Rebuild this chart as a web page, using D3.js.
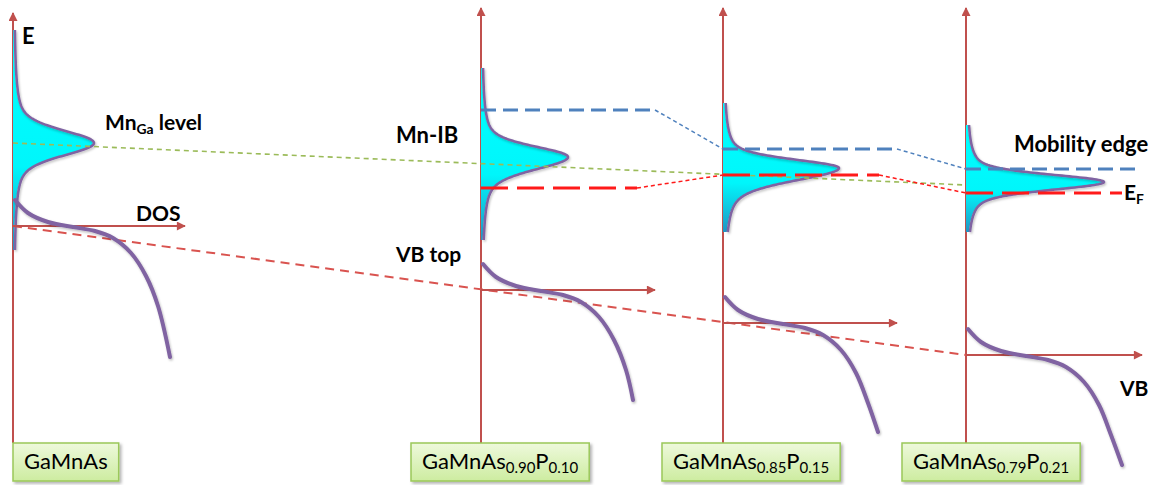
<!DOCTYPE html>
<html>
<head>
<meta charset="utf-8">
<script src="https://cdn.jsdelivr.net/npm/d3@7"></script>
<style>
  body { margin: 0; background: #fff; }
  svg { display: block; }
  text { font-family: Lato, "Open Sans", sans-serif; fill: #000; }
</style>
</head>
<body>
<svg id="chart" width="1159" height="485"></svg>
<script>
// ---- Samples: one DOS panel each ----
const sampleBase = ["GaMnAs", "GaMnAs", "GaMnAs", "GaMnAs"];
const asFraction = [null, "0.90", "0.85", "0.79"];
const pFraction  = [null, "0.10", "0.15", "0.21"];

// ---- Energies (arb. units, 0 = valence-band top of GaMnAs) ----
const vbTop        = [0, -0.64, -0.97, -1.29];
const mnLevel      = [0.83, 0.69, 0.58, 0.44];
const fermiLevel   = [null, 0.38, 0.51, 0.33];
const mobilityEdge = [null, 1.16, 0.77, 0.57];
const mnTrend      = [0.83, 0.41];          // guide through the Mn level, first to last panel

// ---- Mn impurity-band DOS ----
const mnPeakDos     = [0.80, 0.86, 1.15, 1.37];
const mnWidthAbove  = [0.12, 0.10, 0.08, 0.07];
const mnWidthBelow  = [0.12, 0.12, 0.12, 0.075];
const mnExtentAbove = [1.13, 0.89, 0.65, 0.57];
const mnExtentBelow = [1.07, 0.83, 0.64, 0.50];

// ---- Valence-band DOS (dos, energy relative to VB top) ----
const vbShapeDos = [0.02, 0.15, 0.35, 0.60, 0.82, 1.00, 1.18, 1.33, 1.45];
const vbShapeE   = [0.26, 0.13, 0.04, -0.01, -0.05, -0.12, -0.27, -0.50, -0.80];
const vbTailDos  = [1.57, 1.52, 1.55, 1.56];
const vbTailE    = [-1.31, -1.10, -1.09, -1.10];

// ---- Layout ----
const panelX   = [13, 481, 723, 966];
const axisTop  = [13, 8, 8, 8];
const axisBottom = 443;
const boxLeft  = [13, 411, 662, 902];
const arrowLen = [1.72, 1.74, 1.74, 1.76];
const edgeLen  = 1.74;
const fermiLen = 1.56;

const yE   = d3.scaleLinear().domain([-2.4, 2.2]).range([466, 6]);
const xDos = d3.scaleLinear().domain([0, 1]).range([0, 100]);

const AXIS_RED = "#c0504d", PURPLE = "#8064a2", BLUE = "#4f81bd",
      RED = "#ff1a1a", GREEN = "#9bbb59";

const svg = d3.select("#chart");
const defs = svg.append("defs");

// arrowhead
defs.append("marker").attr("id", "arrow")
  .attr("viewBox", "0 0 10 10").attr("refX", 9).attr("refY", 5)
  .attr("markerWidth", 10).attr("markerHeight", 9).attr("markerUnits", "userSpaceOnUse")
  .attr("orient", "auto")
  .append("path").attr("d", "M0,0 L10,5 L0,10 Z").attr("fill", AXIS_RED);

// impurity-band fill
const gFill = defs.append("linearGradient").attr("id", "ibFill")
  .attr("x1", 0).attr("y1", 0).attr("x2", 0).attr("y2", 1);
gFill.append("stop").attr("offset", "0").attr("stop-color", "#00ffff");
gFill.append("stop").attr("offset", "0.62").attr("stop-color", "#00f6fb");
gFill.append("stop").attr("offset", "1").attr("stop-color", "#2196c4");

// sample box fill
const gBox = defs.append("linearGradient").attr("id", "boxFill")
  .attr("x1", 0).attr("y1", 0).attr("x2", 0).attr("y2", 1);
gBox.append("stop").attr("offset", "0").attr("stop-color", "#eef9dc");
gBox.append("stop").attr("offset", "1").attr("stop-color", "#cdeca0");

const soft = defs.append("filter").attr("id", "soft")
  .attr("x", "-10%").attr("y", "-10%").attr("width", "130%").attr("height", "130%");
soft.append("feDropShadow").attr("dx", 1).attr("dy", 1.5)
  .attr("stdDeviation", 1.2).attr("flood-color", "#000").attr("flood-opacity", 0.25);

const boxShadow = defs.append("filter").attr("id", "boxShadow")
  .attr("x", "-10%").attr("y", "-20%").attr("width", "130%").attr("height", "150%");
boxShadow.append("feDropShadow").attr("dx", 2).attr("dy", 2)
  .attr("stdDeviation", 1.5).attr("flood-color", "#000").attr("flood-opacity", 0.3);

const idx = d3.range(panelX.length);

// ---- energy axes ----
svg.append("g").selectAll("line").data(idx).join("line")
  .attr("x1", i => panelX[i]).attr("x2", i => panelX[i])
  .attr("y1", axisBottom).attr("y2", i => axisTop[i])
  .attr("stroke", AXIS_RED).attr("stroke-width", 2)
  .attr("marker-end", "url(#arrow)");

// ---- Mn impurity band: pseudo-Voigt profile, asymmetric width ----
function mnDos(i, e) {
  const d = e - mnLevel[i];
  const s = d > 0 ? mnWidthAbove[i] : mnWidthBelow[i];
  const g = Math.exp(-d * d / (2 * s * s));
  const l = 1 / (1 + (d / (1.5 * s)) ** 2);
  return mnPeakDos[i] * (0.55 * g + 0.45 * l);
}
function mnPoints(i) {
  const e0 = mnLevel[i] + mnExtentAbove[i], e1 = mnLevel[i] - mnExtentBelow[i];
  return d3.range(0, 301).map(k => {
    const e = e0 + (e1 - e0) * k / 300;
    return { i, e, dos: mnDos(i, e) };
  });
}
const ibArea = d3.area()
  .y(d => yE(d.e))
  .x0(d => panelX[d.i])
  .x1(d => panelX[d.i] + xDos(d.dos));
const ibLine = d3.line()
  .x(d => panelX[d.i] + 1 + xDos(d.dos))
  .y(d => yE(d.e));

const ib = svg.append("g");
ib.selectAll("path.fill").data(idx.map(mnPoints)).join("path")
  .attr("class", "fill").attr("d", ibArea).attr("fill", "url(#ibFill)");

// ---- trend guides ----
const last = panelX.length - 1;
svg.append("line")
  .attr("x1", panelX[0]).attr("y1", yE(mnTrend[0]))
  .attr("x2", panelX[last]).attr("y2", yE(mnTrend[1]))
  .attr("stroke", GREEN).attr("stroke-width", 1.6).attr("stroke-dasharray", "5,4");

svg.append("line")
  .attr("x1", panelX[0]).attr("y1", yE(vbTop[0]))
  .attr("x2", panelX[last]).attr("y2", yE(vbTop[last]))
  .attr("stroke", "#d9534f").attr("stroke-width", 2).attr("stroke-dasharray", "9,6");

// impurity-band outlines
ib.selectAll("path.edge").data(idx.map(mnPoints)).join("path")
  .attr("class", "edge").attr("d", ibLine)
  .attr("fill", "none").attr("stroke", PURPLE).attr("stroke-width", 2.6)
  .attr("filter", "url(#soft)");

// ---- mobility edge and Fermi level ----
const levels = svg.append("g");
const withEdge = idx.filter(i => mobilityEdge[i] !== null);
levels.selectAll("line.edge").data(withEdge).join("line")
  .attr("x1", i => panelX[i]).attr("x2", i => panelX[i] + xDos(edgeLen))
  .attr("y1", i => yE(mobilityEdge[i])).attr("y2", i => yE(mobilityEdge[i]))
  .attr("stroke", BLUE).attr("stroke-width", 3.2).attr("stroke-dasharray", "15,7");
levels.selectAll("line.edgeLink").data(withEdge.slice(0, -1)).join("line")
  .attr("x1", i => panelX[i] + xDos(edgeLen)).attr("y1", i => yE(mobilityEdge[i]))
  .attr("x2", i => panelX[i + 1]).attr("y2", i => yE(mobilityEdge[i + 1]))
  .attr("stroke", BLUE).attr("stroke-width", 1.5).attr("stroke-dasharray", "4,3");

const withEf = idx.filter(i => fermiLevel[i] !== null);
levels.selectAll("line.ef").data(withEf).join("line")
  .attr("x1", i => panelX[i]).attr("x2", i => panelX[i] + xDos(fermiLen))
  .attr("y1", i => yE(fermiLevel[i])).attr("y2", i => yE(fermiLevel[i]))
  .attr("stroke", RED).attr("stroke-width", 3.2).attr("stroke-dasharray", "27,9");
levels.selectAll("line.efLink").data(withEf.slice(0, -1)).join("line")
  .attr("x1", i => panelX[i] + xDos(fermiLen)).attr("y1", i => yE(fermiLevel[i]))
  .attr("x2", i => panelX[i + 1]).attr("y2", i => yE(fermiLevel[i + 1]))
  .attr("stroke", RED).attr("stroke-width", 1.5).attr("stroke-dasharray", "4,3");

// ---- DOS axes ----
svg.append("g").selectAll("line").data(idx).join("line")
  .attr("x1", i => panelX[i]).attr("x2", i => panelX[i] + xDos(arrowLen[i]))
  .attr("y1", i => yE(vbTop[i])).attr("y2", i => yE(vbTop[i]))
  .attr("stroke", AXIS_RED).attr("stroke-width", 2)
  .attr("marker-end", "url(#arrow)");

// ---- valence-band DOS ----
const vbLine = d3.line()
  .x(d => panelX[d.i] + xDos(d.dos))
  .y(d => yE(vbTop[d.i] + d.e))
  .curve(d3.curveCatmullRom.alpha(0.5));
const vbData = idx.map(i =>
  vbShapeDos.map((dos, k) => ({ i, dos, e: vbShapeE[k] }))
    .concat([{ i, dos: vbTailDos[i], e: vbTailE[i] }]));
svg.append("g").selectAll("path").data(vbData).join("path")
  .attr("d", vbLine).attr("fill", "none")
  .attr("stroke", PURPLE).attr("stroke-width", 4).attr("stroke-linecap", "round")
  .attr("filter", "url(#soft)");

// ---- sample boxes ----
const boxes = svg.append("g").selectAll("g").data(idx).join("g");
boxes.each(function (i) {
  const g = d3.select(this);
  const rect = g.append("rect")
    .attr("x", boxLeft[i]).attr("y", axisBottom).attr("height", 38)
    .attr("fill", "url(#boxFill)").attr("stroke", "#9bc85a").attr("stroke-width", 1.5)
    .attr("filter", "url(#boxShadow)");
  const t = g.append("text").attr("x", boxLeft[i] + 11).attr("y", 469)
    .attr("font-size", 22);
  t.append("tspan").text(sampleBase[i]);
  if (asFraction[i]) {
    t.append("tspan").attr("font-size", 15).attr("dy", 4).text(asFraction[i]);
    t.append("tspan").attr("dy", -4).text("P");
    t.append("tspan").attr("font-size", 15).attr("dy", 4).text(pFraction[i]);
  }
  const w = t.node().getComputedTextLength();
  rect.attr("width", w + 22);
});

// ---- annotations ----
function label(x, y, parts, size, weight) {
  const t = svg.append("text").attr("x", x).attr("y", y)
    .attr("font-size", size).attr("font-weight", weight || "bold");
  parts.forEach(p => {
    const s = t.append("tspan").text(p.text);
    if (p.sub) s.attr("font-size", size * 0.66).attr("dy", 4);
    if (p.back) s.attr("dy", -4);
  });
  return t;
}
label(22, 44, [{ text: "E" }], 22);
label(105, 130, [{ text: "Mn" }, { text: "Ga", sub: true }, { text: " level", back: true }], 21);
label(136, 221, [{ text: "DOS" }], 21);
label(396, 143, [{ text: "Mn-IB" }], 22);
label(396, 262, [{ text: "VB top" }], 21);
label(1014, 152, [{ text: "Mobility edge" }], 22);
label(1124, 200, [{ text: "E" }, { text: "F", sub: true }], 21);
label(1120, 396, [{ text: "VB" }], 21);
</script>
</body>
</html>
